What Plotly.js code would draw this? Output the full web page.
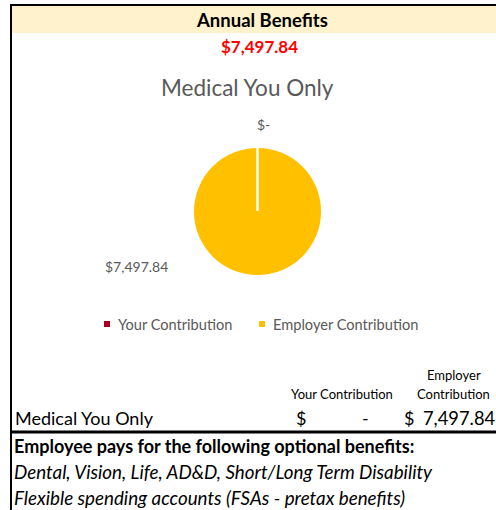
<!DOCTYPE html>
<html><head><meta charset="utf-8">
<script src="https://cdn.plot.ly/plotly-3.0.1.min.js"></script>
<style>html,body{margin:0;padding:0;background:#fff}#c{width:496px;height:510px}</style>
</head><body><div id="c"></div>
<script>
var categories = ["Your Contribution", "Employer Contribution"];
var values = [0, 7497.84];
var colors = ["#A50021", "#FFC000"];
var planName = "Medical You Only";
var headerTitle = "Annual Benefits";
var optionalTitle = "Employee pays for the following optional benefits:";
var optionalLines = ["Dental, Vision, Life, AD&D, Short/Long Term Disability", "Flexible spending accounts (FSAs - pretax benefits)"];

var W = 496, H = 510;
function px(x){return x / W;}
function py(y){return 1 - y / H;}
function money(v){return v === 0 ? "$-" : "$" + v.toLocaleString("en-US",{minimumFractionDigits:2,maximumFractionDigits:2});}
function num(v){return v === 0 ? "-" : v.toLocaleString("en-US",{minimumFractionDigits:2,maximumFractionDigits:2});}
var total = values.reduce(function(a,b){return a+b;},0);
var F = "Lato, 'Open Sans', sans-serif";
var gray = "#595959";

var traces = [{
  type: "pie", labels: categories, values: values, sort: false, direction: "clockwise", rotation: 0,
  marker: {colors: colors, line: {color: "#ffffff", width: 0}},
  textinfo: "none", hoverinfo: "label+value", showlegend: false,
  domain: {x: [px(194), px(321)], y: [py(275), py(148)]}
}];

var ann = [];
function A(text, x, y, o){
  var a = {text: text, x: px(x), y: py(y), xref: "paper", yref: "paper", showarrow: false,
    xanchor: "center", yanchor: "middle", font: {family: F, size: 14, color: "#000"}};
  for (var k in o) a[k] = o[k];
  ann.push(a);
}
A("<b>" + headerTitle + "</b>", 262, 20, {font: {family: F, size: 18.5, color: "#000"}});
A("<b>" + money(total) + "</b>", 259, 46, {font: {family: F, size: 17, color: "#FF0000"}});
A(planName, 247, 87, {font: {family: F, size: 22.5, color: gray}});
A(money(values[0]), 263, 124, {font: {family: F, size: 14, color: gray}});
A(money(values[1]), 136, 266, {font: {family: F, size: 14, color: gray}});

// legend (manual)
var legX = [107, 262];
categories.forEach(function(c, i){
  ann.push({text: c, x: px(legX[i] + 9), y: py(324), xref: "paper", yref: "paper", showarrow: false,
    xanchor: "left", yanchor: "middle", font: {family: F, size: 14.6, color: gray}});
});

A("Employer", 454, 375, {font: {family: F, size: 13, color: "#000"}});
A("Contribution", 453, 394, {font: {family: F, size: 13, color: "#000"}});
A("Your Contribution", 342, 394, {font: {family: F, size: 13, color: "#000"}});
A(planName, 13, 418, {xanchor: "left", font: {family: F, size: 18, color: "#000"}});
A("$", 301, 418, {font: {family: F, size: 18, color: "#000"}});
A(num(values[0]), 365, 418, {font: {family: F, size: 18, color: "#000"}});
A("$", 409, 418, {font: {family: F, size: 18, color: "#000"}});
A(num(values[1]), 421, 418, {xanchor: "left", font: {family: F, size: 18.3, color: "#000"}});
A("<b>" + optionalTitle + "</b>", 12, 446, {xanchor: "left", font: {family: F, size: 18, color: "#000"}});
A("<i>" + optionalLines[0] + "</i>", 12, 471, {xanchor: "left", font: {family: F, size: 18.8, color: "#000"}});
A("<i>" + optionalLines[1] + "</i>", 12, 497, {xanchor: "left", font: {family: F, size: 18.8, color: "#000"}});

var shapes = [
  {type: "rect", xref: "paper", yref: "paper", x0: px(12), x1: px(496), y0: py(33), y1: py(6), fillcolor: "#FFF2CC", line: {width: 0}, layer: "below"},
  {type: "line", xref: "paper", yref: "paper", x0: px(10), x1: px(496), y0: py(5), y1: py(5), line: {color: "#000", width: 2}},
  {type: "line", xref: "paper", yref: "paper", x0: px(11), x1: px(11), y0: py(4), y1: py(510), line: {color: "#000", width: 2}},
  {type: "line", xref: "paper", yref: "paper", x0: px(10), x1: px(496), y0: py(432), y1: py(432), line: {color: "#000", width: 3}},
  {type: "line", xref: "paper", yref: "paper", x0: px(257.5), x1: px(257.5), y0: py(211), y1: py(147), line: {color: "#fff", width: 2.5}}
];
categories.forEach(function(c, i){
  shapes.push({type: "rect", xref: "paper", yref: "paper", x0: px(legX[i] - 3), x1: px(legX[i] + 3),
    y0: py(327), y1: py(321), fillcolor: colors[i], line: {width: 0}});
});

var layout = {
  width: W, height: H, margin: {l: 0, r: 0, t: 0, b: 0},
  paper_bgcolor: "#fff", plot_bgcolor: "#fff",
  xaxis: {visible: false, range: [0, 1]}, yaxis: {visible: false, range: [0, 1]},
  showlegend: false,
  annotations: ann, shapes: shapes
};
Plotly.newPlot("c", traces, layout, {displayModeBar: false, staticPlot: true});
</script></body></html>
